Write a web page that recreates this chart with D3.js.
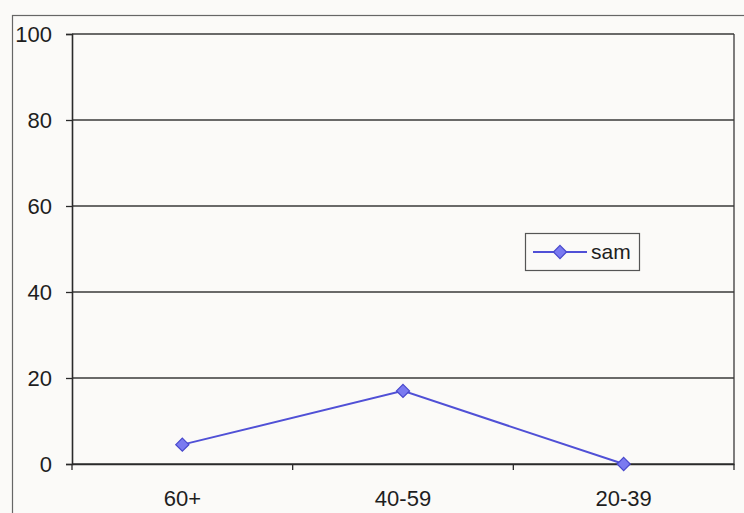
<!DOCTYPE html>
<html><head><meta charset="utf-8">
<script src="https://cdn.jsdelivr.net/npm/d3@7"></script>
<style>body{margin:0;background:#fbfaf8;}svg{display:block;}</style>
</head><body>
<script>
const categories = ["60+", "40-59", "20-39"];
const samValues = [4.5, 17, 0];
const yTicks = [0, 20, 40, 60, 80, 100];
const seriesName = "sam";

const W = 744, H = 513;
const FONT = "Liberation Sans, Arial, sans-serif";
const svg = d3.select("body").append("svg").attr("width", W).attr("height", H);
svg.append("rect").attr("width", W).attr("height", H).attr("fill", "#fbfaf8");

// outer chart border
svg.append("rect").attr("x", 12.5).attr("y", 15.5).attr("width", 740).attr("height", 520)
  .attr("fill", "none").attr("stroke", "#666").attr("stroke-width", 1.2);

const L = 72, R = 734, T = 34, B = 464;
const x = d3.scaleBand().domain(categories).range([L, R]).padding(0);
const y = d3.scaleLinear().domain([0, 100]).range([B, T]);

// gridlines
svg.append("g").selectAll("line").data(yTicks).join("line")
  .attr("x1", L).attr("x2", R).attr("y1", d => y(d)).attr("y2", d => y(d))
  .attr("stroke", "#3a3a3a").attr("stroke-width", 1.3);

// right border of plot
svg.append("line").attr("x1", R).attr("x2", R).attr("y1", T).attr("y2", B)
  .attr("stroke", "#3a3a3a").attr("stroke-width", 1.3);

// y axis
const yAxis = d3.axisLeft(y).tickValues(yTicks).tickSize(6).tickPadding(14);
const gy = svg.append("g").attr("transform", `translate(${L},0)`).call(yAxis);
gy.select(".domain").attr("stroke", "#2a2a2a").attr("stroke-width", 1.6);
gy.selectAll(".tick line").attr("stroke", "#2a2a2a").attr("stroke-width", 1.3);
gy.selectAll("text").attr("font-family", FONT)
  .attr("font-size", 22).attr("fill", "#1e1e1e");

// x axis
const xAxis = d3.axisBottom(x).tickSize(0).tickPadding(26);
const gx = svg.append("g").attr("transform", `translate(0,${B})`).call(xAxis);
gx.select(".domain").attr("stroke", "#2a2a2a").attr("stroke-width", 1.6);
gx.selectAll("text").attr("font-family", FONT)
  .attr("font-size", 22).attr("fill", "#1e1e1e");
// tick marks at category boundaries
const bounds = [L, ...categories.slice(1).map(c => x(c)), R];
svg.append("g").selectAll("line").data(bounds).join("line")
  .attr("x1", d => d).attr("x2", d => d).attr("y1", B).attr("y2", B + 6)
  .attr("stroke", "#2a2a2a").attr("stroke-width", 1.3);

// series line
const lineColor = "#5050d6";
const line = d3.line().x((d, i) => x(categories[i]) + x.bandwidth() / 2).y(d => y(d));
svg.append("path").datum(samValues).attr("d", line)
  .attr("fill", "none").attr("stroke", lineColor).attr("stroke-width", 2);

const diamond = d3.symbol().type(d3.symbolDiamond2).size(110);
svg.append("g").selectAll("path").data(samValues).join("path")
  .attr("transform", (d, i) => `translate(${x(categories[i]) + x.bandwidth() / 2},${y(d)})`)
  .attr("d", diamond).attr("fill", "#7a7af0").attr("stroke", "#4848cc").attr("stroke-width", 1.2);

// legend
const lg = svg.append("g");
lg.append("rect").attr("x", 525.5).attr("y", 233.5).attr("width", 114).attr("height", 37)
  .attr("fill", "#fbfaf8").attr("stroke", "#555").attr("stroke-width", 1.2);
lg.append("line").attr("x1", 533).attr("x2", 587).attr("y1", 252).attr("y2", 252)
  .attr("stroke", lineColor).attr("stroke-width", 1.8);
lg.append("path").attr("transform", "translate(560,252)").attr("d", diamond)
  .attr("fill", "#7a7af0").attr("stroke", "#4848cc").attr("stroke-width", 1.2);
lg.append("text").attr("x", 591).attr("y", 259).text(seriesName)
  .attr("font-family", FONT).attr("font-size", 21).attr("fill", "#1e1e1e");
</script>
</body></html>
